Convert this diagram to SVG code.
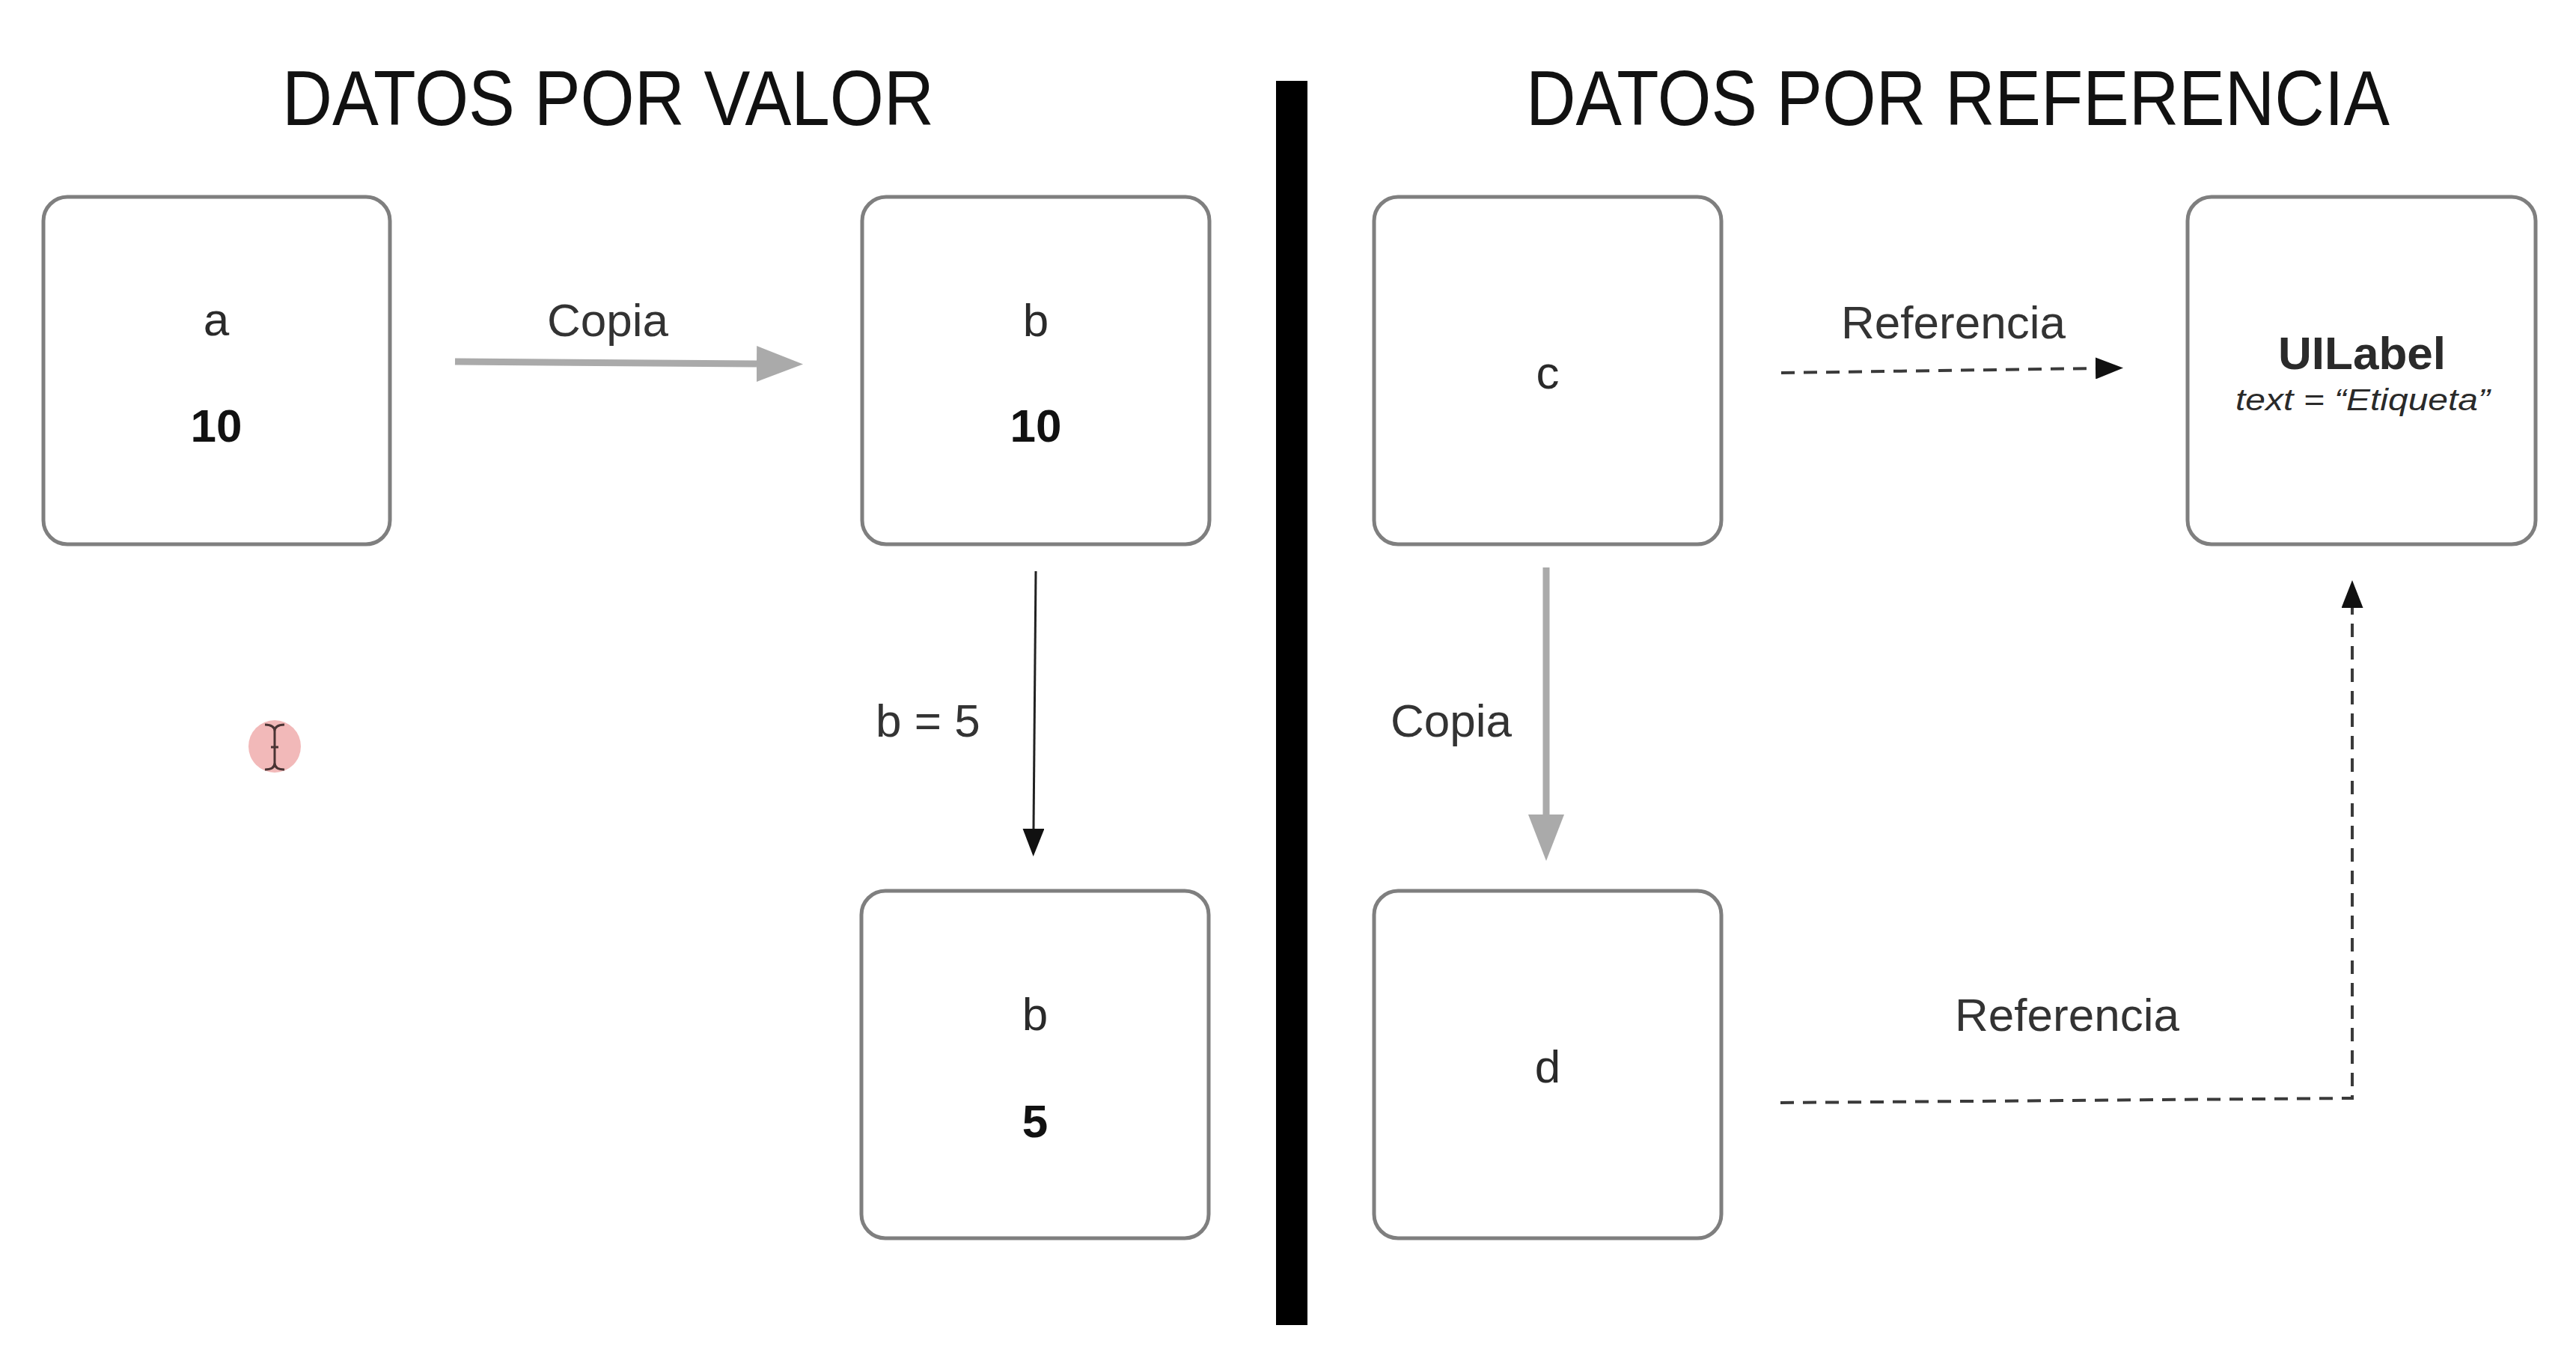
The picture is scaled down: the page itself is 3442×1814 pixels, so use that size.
<svg xmlns="http://www.w3.org/2000/svg" width="3442" height="1814" viewBox="0 0 3442 1814">
<style>
text{font-family:"Liberation Sans",Arial,Helvetica,sans-serif;fill:#2a2a2a}
.title{font-size:103px;fill:#111}
.lbl{font-size:62px;fill:#333}
.name{font-size:62px;text-anchor:middle}
.val{font-size:62px;font-weight:bold;text-anchor:middle;fill:#111}
.box{fill:#fff;stroke:#7f7f7f;stroke-width:5}
.copy{stroke:#aaaaaa;stroke-width:9;fill:none}
.assign{stroke:#222;stroke-width:3;fill:none}
.ref{stroke:#3a3a3a;stroke-width:4;stroke-dasharray:18 12;fill:none}
</style>
<defs>
<marker id="grayHead" markerUnits="userSpaceOnUse" markerWidth="62" markerHeight="48" viewBox="0 0 62 48" refX="0" refY="24" orient="auto"><path d="M0,0 L62,24 L0,48 z" fill="#aaaaaa"/></marker>
<marker id="blackHead" markerUnits="userSpaceOnUse" markerWidth="37" markerHeight="29" viewBox="0 0 37 29" refX="0" refY="14.5" orient="auto"><path d="M0,0 L37,14.5 L0,29 z" fill="#111"/></marker>
</defs>
<rect width="3442" height="1814" fill="#fff"/>
<g id="titles">
<text class="title" x="377" y="167" textLength="871" lengthAdjust="spacingAndGlyphs">DATOS POR VALOR</text>
<text class="title" x="2039" y="167" textLength="1154" lengthAdjust="spacingAndGlyphs">DATOS POR REFERENCIA</text>
</g>
<rect id="divider" x="1705" y="108" width="42" height="1662" fill="#000"/>
<g id="connectors">
<line class="copy" x1="608" y1="483" x2="1011" y2="486" marker-end="url(#grayHead)"/>
<line class="assign" x1="1384" y1="763" x2="1381" y2="1107" marker-end="url(#blackHead)"/>
<line class="copy" x1="2066" y1="758" x2="2066" y2="1088" marker-end="url(#grayHead)"/>
<line class="ref" x1="2380" y1="498" x2="2800" y2="492" marker-end="url(#blackHead)"/>
<polyline class="ref" points="2379,1473 3143,1467 3143,812" marker-end="url(#blackHead)"/>
<text class="lbl" x="812" y="449" text-anchor="middle">Copia</text>
<text class="lbl" x="1170" y="984">b = 5</text>
<text class="lbl" x="1939" y="984" text-anchor="middle">Copia</text>
<text class="lbl" x="2610" y="452" text-anchor="middle">Referencia</text>
<text class="lbl" x="2762" y="1377" text-anchor="middle">Referencia</text>
</g>
<g id="node-a">
<rect class="box" x="58" y="263" width="463" height="464" rx="32"/>
<text class="name" x="289" y="448">a</text>
<text class="val" x="289" y="590">10</text>
</g>
<g id="node-b1">
<rect class="box" x="1152" y="263" width="464" height="464" rx="32"/>
<text class="name" x="1384" y="449">b</text>
<text class="val" x="1384" y="590">10</text>
</g>
<g id="node-b2">
<rect class="box" x="1151" y="1190" width="464" height="464" rx="32"/>
<text class="name" x="1383" y="1376">b</text>
<text class="val" x="1383" y="1519">5</text>
</g>
<g id="node-c">
<rect class="box" x="1836" y="263" width="464" height="464" rx="32"/>
<text class="name" x="2068" y="519">c</text>
</g>
<g id="node-d">
<rect class="box" x="1836" y="1190" width="464" height="464" rx="32"/>
<text class="name" x="2068" y="1446">d</text>
</g>
<g id="node-uilabel">
<rect class="box" x="2923" y="263" width="465" height="464" rx="32"/>
<text x="3156" y="493" font-size="62" font-weight="bold" text-anchor="middle" fill="#111">UILabel</text>
<text x="2987" y="548" font-size="41" font-style="italic" fill="#333" textLength="340" lengthAdjust="spacingAndGlyphs">text = “Etiqueta”</text>
</g>
<g id="cursor">
<circle cx="367" cy="997" r="35" fill="#f2b9b9"/>
<path d="M354,968 Q367,968 367,977 Q367,968 380,968 M367,977 L367,1019 M354,1028 Q367,1028 367,1019 Q367,1028 380,1028 M362,998 L372,998" fill="none" stroke="#4a3434" stroke-width="3"/>
</g>
</svg>
